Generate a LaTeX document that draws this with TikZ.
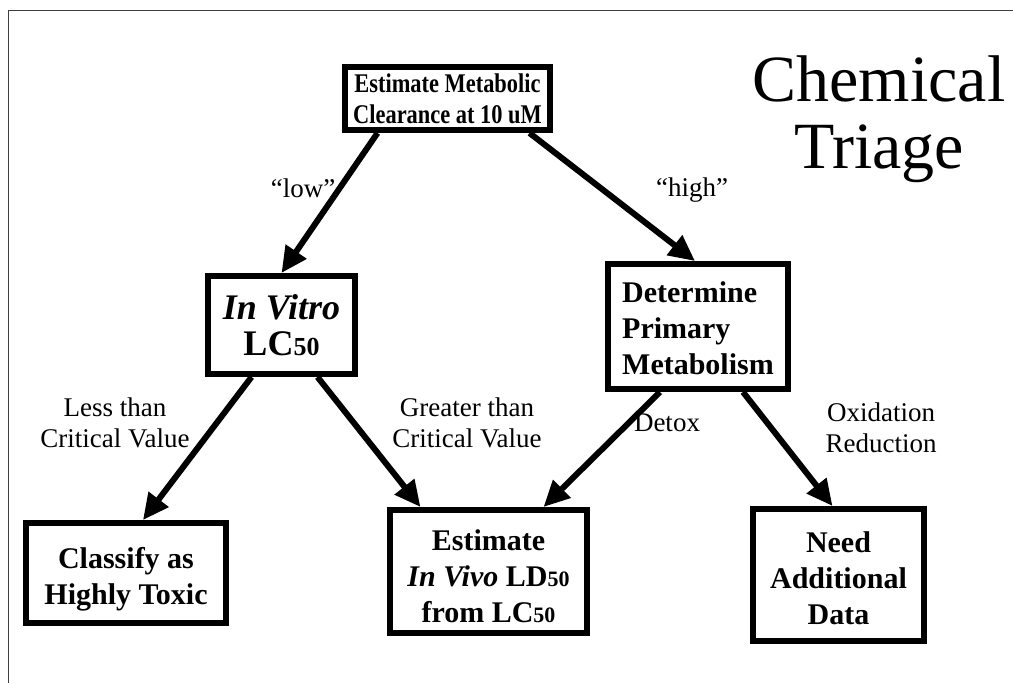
\documentclass[tikz,border=0pt]{standalone}
\usepackage{fontspec}
\setmainfont{Liberation Serif}
\usetikzlibrary{arrows.meta}

\newcommand{\fsz}[2]{\fontsize{#1}{#2}\selectfont}
\newcommand{\topgap}[1]{\rule{0pt}{#1}}

\begin{document}
\begin{tikzpicture}
  [x=1pt, y=-1pt,
   box/.style={draw, line width=6pt, align=center, inner sep=0pt, font=\bfseries\fsz{30}{36}},
   lbl/.style={align=center, inner sep=0pt, font=\fsz{27}{31}},
   arr/.style={line width=6pt, -{Triangle[length=26pt,width=24pt]}}]
  \useasboundingbox (0,0) rectangle (1013,683);
  \draw[line width=1pt, black!75] (8,683) -- (8,10) -- (1013,10);

  % boxes
  \node[box, minimum width=205, minimum height=63, font=\bfseries\fsz{27}{31}] (metab) at (447.5,98.5)
     {\scalebox{0.83}[1]{Estimate Metabolic}\\\scalebox{0.83}[1]{Clearance at 10 uM}};
  \node[box, minimum width=147, minimum height=98] (vitro) at (281.5,325)
     {\fsz{36}{38}\textit{In Vitro}\\\fsz{36}{38}LC{\fsz{26}{26}50}};
  \node[box, minimum width=180, minimum height=125] (determ) at (698,326.5)
     {\begin{tabular}{@{}l@{}}\topgap{34pt}Determine\\Primary\\Metabolism\end{tabular}};
  \node[box, minimum width=200, minimum height=100] (classify) at (126,573)
     {\topgap{33pt}Classify as\\Highly Toxic};
  \node[box, minimum width=197, minimum height=123] (invivo) at (488.5,571.5)
     {\topgap{31pt}Estimate\\\textit{In Vivo} LD{\fsz{22}{22}50}\\from LC{\fsz{22}{22}50}};
  \node[box, minimum width=171, minimum height=132] (need) at (838.5,575)
     {\topgap{27pt}Need\\Additional\\Data};

  \node[font=\fsz{66}{67}, align=center, inner sep=0pt] (title) at (879,119) {Chemical\\Triage};

  % connectors
  \draw[arr] ([xshift=-70]metab.south) -- (vitro.north);
  \draw[arr] ([xshift=82]metab.south) -- ([xshift=-3]determ.north);
  \draw[arr] ([xshift=-30]vitro.south) -- ([xshift=17]classify.north);
  \draw[arr] ([xshift=36]vitro.south) -- ([xshift=-68]invivo.north);
  \draw[arr] ([xshift=-38]determ.south) -- ([xshift=55]invivo.north);
  \draw[arr] ([xshift=45]determ.south) -- ([xshift=-6]need.north);

  % labels
  \node[lbl] (low) at (303,188) {``low''};
  \node[lbl] (high) at (692,190) {``high''};
  \node[lbl] (less) at (115,423) {Less than\\Critical Value};
  \node[lbl] (greater) at (467,423) {Greater than\\Critical Value};
  \node[lbl] (detox) at (667,423) {Detox};
  \node[lbl] (oxred) at (881,428) {Oxidation\\Reduction};
\end{tikzpicture}
\end{document}
